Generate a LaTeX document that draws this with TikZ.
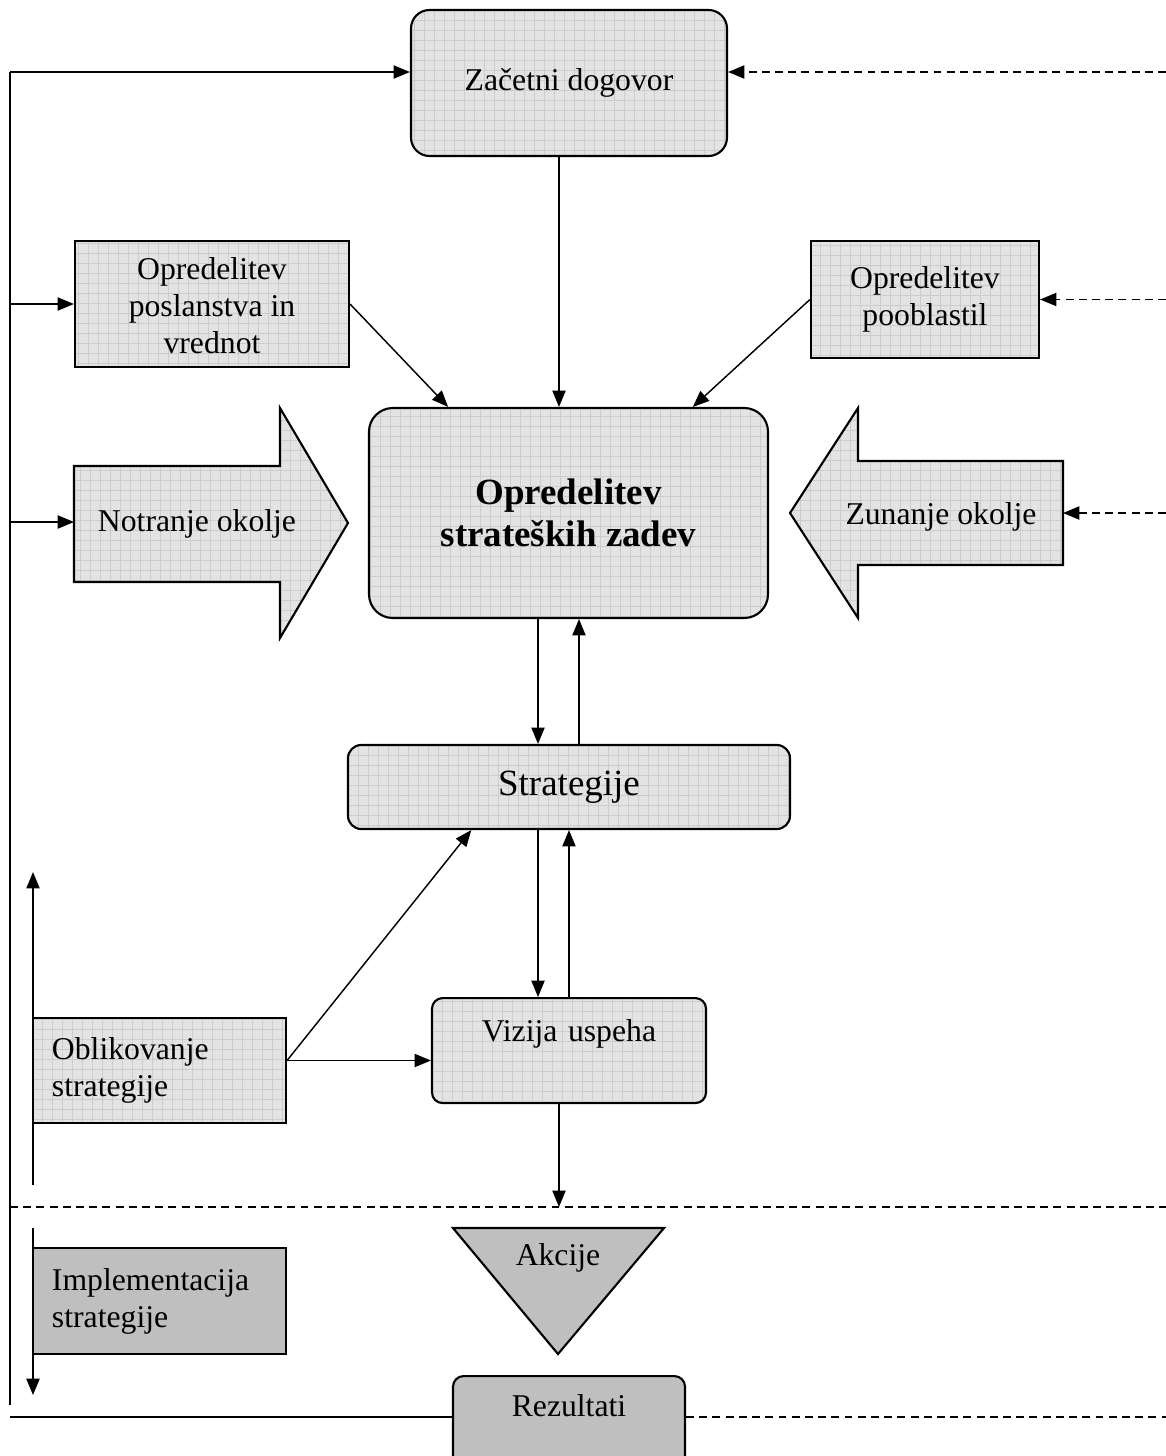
\documentclass[tikz,border=0pt]{standalone}
\usepackage{fontspec}
\setmainfont{Liberation Serif}
\usetikzlibrary{arrows.meta,calc,positioning}
\newlength\px
\setlength\px{0.0133cm}

\begin{document}
\begin{tikzpicture}[
    x = 0.0133cm, y = -0.0133cm,
    font = \fontsize{12}{14}\selectfont,
    line width = 0.55pt
  ]

  \useasboundingbox (0,0) rectangle (1166,1456);
  \clip (0,0) rectangle (1166,1456);

  \tikzstyle {grid fill} = [fill = black!11, path picture = {\draw [black!20, line width = 0.3pt, step = 10\px] (path picture bounding box.south west) grid (path picture bounding box.north east);}]
  \tikzstyle {box} = [draw, line width = 0.8pt, grid fill, inner sep = 0, align = center]
  \tikzstyle {rbox} = [box, rounded corners = 4pt]
  \tikzstyle {dark} = [draw, line width = 0.8pt, fill = black!25, inner sep = 0]
  \tikzstyle {arr} = [-{Triangle[length = 6.2pt, width = 5pt]}]
  \tikzstyle {dasharr} = [arr, dash pattern = on 3pt off 2pt]

  \coordinate (spine) at (10,72);
  \coordinate (spineend) at (10,1405);
  \coordinate (rim) at (1166,72);
  \coordinate (axis) at (559,0);
  \coordinate (dn) at (538,0);
  \coordinate (up) at (579,0);
  \coordinate (uptwo) at (569,0);
  \coordinate (sep) at (0,1207);
  \coordinate (bot) at (10,1417);

  \node [rbox, rounded corners = 7pt, minimum width = 316\px, minimum height = 146\px] (zac) at (569,83) {Začetni dogovor};
  \node [box, minimum width = 274\px, minimum height = 126\px] (posl) at (212,304) {\strut Opredelitev\\poslanstva in\\vrednot};
  \node [box, minimum width = 228\px, minimum height = 117\px] (poobl) at (925,299.5) {Opredelitev\\pooblastil};
  \node [rbox, rounded corners = 9pt, minimum width = 399\px, minimum height = 210\px, font = \fontsize{14}{16}\selectfont\bfseries] (ose) at (568.5,513) {Opredelitev\\strateških zadev};
  \node [rbox, rounded corners = 5pt, minimum width = 442\px, minimum height = 84\px, font = \fontsize{14}{16}\selectfont] (strat) at (569,787) {Strategije};
  \node [rbox, anchor = north, text width = 274\px, text height = 43\px, text depth = 62\px] (viz) at (569,997) {Vizija uspeha};
  \node [box, align = left, text width = 215\px, inner xsep = 19\px, minimum height = 105\px] (obl) at (159.5,1070.5) {Oblikovanje\\strategije};
  \node [dark, align = left, text width = 215\px, inner xsep = 19\px, minimum height = 106\px] (impl) at (159.5,1301) {Implementacija\\strategije};
  \node [dark, rounded corners = 4pt, anchor = north, align = center, text width = 232\px, text height = 40\px, text depth = 67\px] (rez) at (569,1375) {Rezultati};

  \draw [grid fill, draw, line width = 0.8pt] (74,466) -- (280,466) -- (280,408) -- (348,523) -- (280,638) -- (280,582) -- (74,582) -- cycle;
  \node (notr) at (197,524) {Notranje okolje};
  \coordinate (notrback) at (74,522);

  \draw [grid fill, draw, line width = 0.8pt] (1063,461) -- (858,461) -- (858,408) -- (790,513) -- (858,618) -- (858,565) -- (1063,565) -- cycle;
  \node (zun) at (941,517) {Zunanje okolje};
  \coordinate (zunback) at (1063,513);

  \draw [dark] (453,1228) -- (664,1228) -- (558,1354) -- cycle;
  \node (akc) at (558,1258) {Akcije};

  \draw (spine) -- (spineend);
  \draw [arr] (spine) -- (spine -| zac.west);
  \draw [dasharr] (rim) -- (rim -| zac.east);
  \draw [arr] (spine |- posl.west) -- (posl.west);
  \draw [dasharr] (rim |- poobl.east) -- (poobl.east);
  \draw [arr] (spine |- notrback) -- (notrback);
  \draw [dasharr] (rim |- zunback) -- (zunback);

  \draw [arr] (zac.south -| axis) -- (ose.north -| axis);
  \draw [arr] (posl.east) -- ($(ose.north west)!0.2!(ose.north east)$);
  \draw [arr] (poobl.west) -- ($(ose.north west)!0.81!(ose.north east)$);

  \draw [arr] (ose.south -| dn) -- (strat.north -| dn);
  \draw [arr] (strat.north -| up) -- (ose.south -| up);
  \draw [arr] (strat.south -| dn) -- (viz.north -| dn);
  \draw [arr] (viz.north -| uptwo) -- (strat.south -| uptwo);

  \coordinate (oblout) at ([yshift = 10\px]obl.east);
  \draw [arr] (oblout) -- (oblout -| viz.west);
  \draw [arr] (oblout) -- ($(strat.south west)!0.28!(strat.south east)$);
  \draw [arr] (viz.south -| axis) -- (sep -| axis);

  \draw [dash pattern = on 3pt off 2pt] (spine |- sep) -- (rim |- sep);

  \coordinate (formtop) at (33,872);
  \coordinate (formbot) at (33,1185);
  \coordinate (impltop) at (33,1228);
  \coordinate (implbot) at (33,1395);
  \draw [arr] (formbot) -- (formtop);
  \draw [arr] (impltop) -- (implbot);

  \draw (bot) -- (bot -| rez.west);
  \draw [dash pattern = on 3pt off 2pt] (bot -| rez.east) -- (rim |- bot);
\end{tikzpicture}
\end{document}
